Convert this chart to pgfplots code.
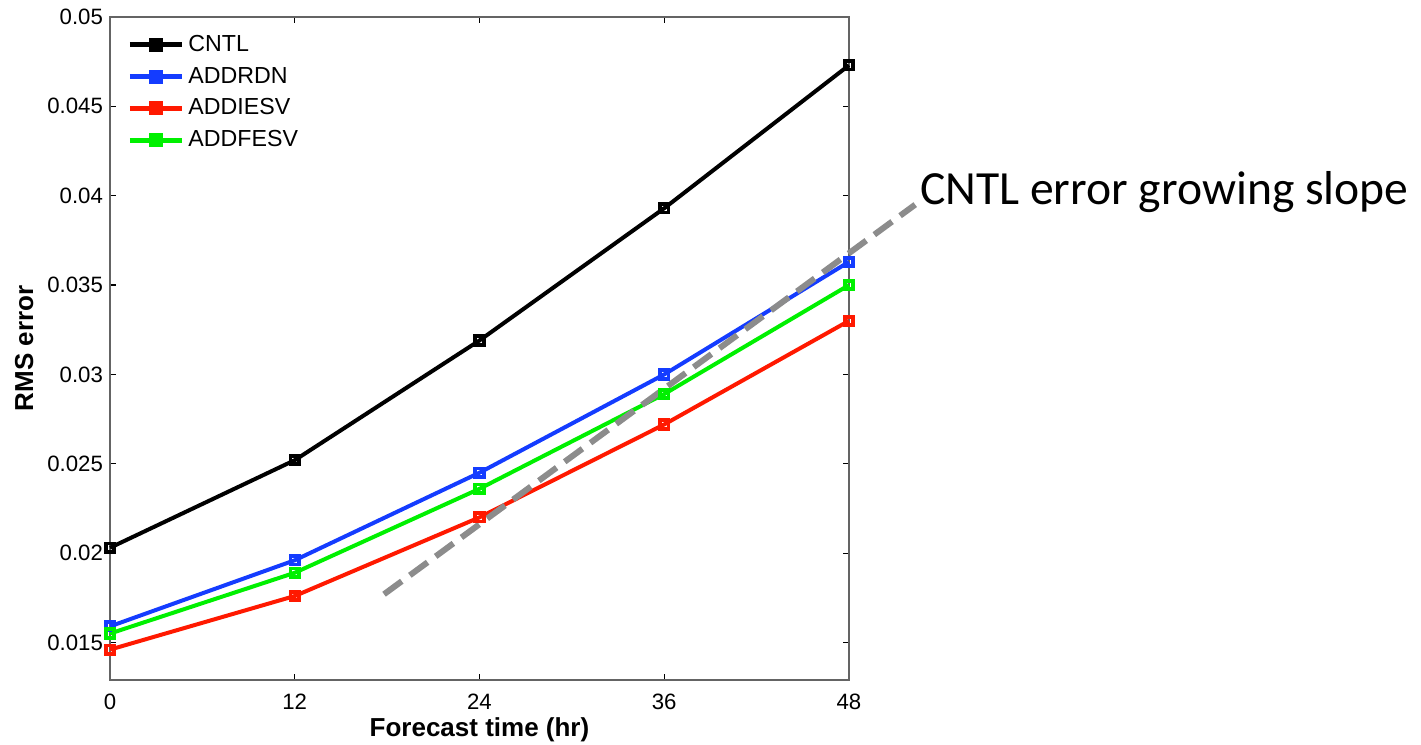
\documentclass[border=0pt]{standalone}
\usepackage{fontspec}
\setmainfont{Liberation Sans}
\newfontfamily\calibri{Carlito}
\usepackage{pgfplots}
\pgfplotsset{compat=1.18}

\definecolor{cblue}{RGB}{20,60,255}
\definecolor{cred}{RGB}{255,25,0}
\definecolor{cgreen}{RGB}{0,240,0}
\definecolor{axgray}{RGB}{100,100,100}

\begin{document}
\begin{tikzpicture}
\begin{axis}[
  scale only axis,
  width=369.5pt, height=331.5pt,
  xmin=0, xmax=48,
  ymin=0.0129, ymax=0.05,
  xtick={0,12,24,36,48},
  ytick={0.015,0.02,0.025,0.03,0.035,0.04,0.045,0.05},
  scaled y ticks=false,
  yticklabel style={/pgf/number format/.cd, fixed, precision=3, assume math mode=true},
  xticklabel style={/pgf/number format/assume math mode=true, yshift=-3.5pt},
  tick label style={font=\fontsize{11.1pt}{13pt}\selectfont},
  tick align=inside,
  major tick length=3pt,
  axis line style={axgray, line width=0.8pt},
  tick style={black, line width=0.6pt},
  xlabel={\textbf{Forecast time (hr)}},
  ylabel={\textbf{RMS error}},
  label style={font=\fontsize{13pt}{15pt}\selectfont},
  xlabel style={at={(axis description cs:0.5,0)}, anchor=center, yshift=-25pt},
  ylabel style={at={(axis description cs:-0.116,0.5)}, anchor=center},
  clip=false,
  legend style={draw=none, fill=none, at={(0.015,0.985)}, anchor=north west,
    font=\fontsize{11.6pt}{14pt}\selectfont, row sep=2.3pt},
  legend cell align=left,
  legend image code/.code={%
    \draw[line width=2.5pt, mark=square*, mark size=2.6pt, mark repeat=2, mark phase=2]
      plot coordinates {(0pt,0pt) (13pt,0pt) (26pt,0pt)};},
  every axis plot/.append style={line width=2pt, mark=square, mark size=2.1pt,
    mark options={solid, line width=1.9pt}},
]
\addplot[black] coordinates {(0,0.0203) (12,0.0252) (24,0.0319) (36,0.0393) (48,0.0473)};
\addlegendentry{CNTL}
\addplot[cblue] coordinates {(0,0.0159) (12,0.0196) (24,0.0245) (36,0.0300) (48,0.0363)};
\addlegendentry{ADDRDN}
\addplot[cred] coordinates {(0,0.0146) (12,0.0176) (24,0.0220) (36,0.0272) (48,0.0330)};
\addlegendentry{ADDIESV}
\addplot[cgreen] coordinates {(0,0.0155) (12,0.0189) (24,0.0236) (36,0.0289) (48,0.0350)};
\addlegendentry{ADDFESV}
\addplot[gray!90, line width=3pt, mark=none, dash pattern=on 11pt off 5pt, forget plot]
  coordinates {(17.8,0.0177) (52.3,0.0395)};
\node[anchor=west, inner sep=0pt, font=\calibri\fontsize{23.8pt}{28pt}\selectfont]
  at (axis cs:52.6,0.0402) {CNTL error growing slope};
\end{axis}
\pgfresetboundingbox
\path (-55pt,-32.5pt) rectangle (655.5pt,340pt);
\end{tikzpicture}
\end{document}
